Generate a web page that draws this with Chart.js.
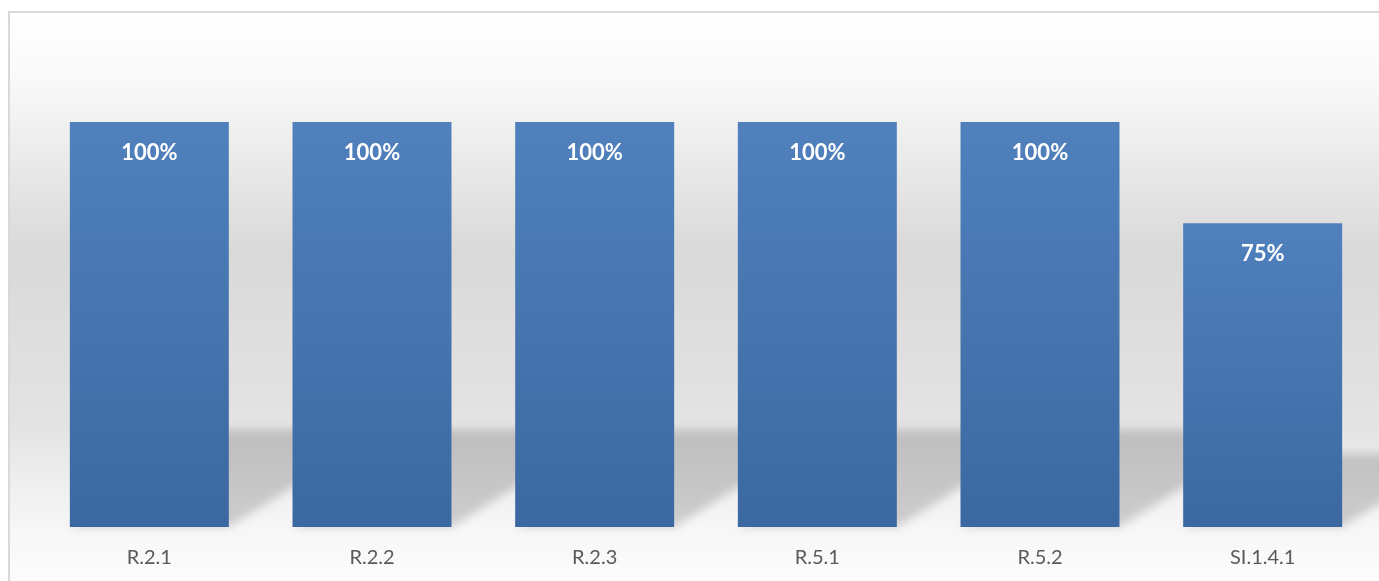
<!DOCTYPE html>
<html>
<head>
<meta charset="utf-8">
<script src="https://cdn.jsdelivr.net/npm/chart.js@4.4.1/dist/chart.umd.min.js"></script>
<style>
  html, body { margin: 0; padding: 0; background: #fff; }
  #wrap { width: 1379px; height: 581px; position: relative; }
</style>
</head>
<body>
<div id="wrap"><canvas id="chart"></canvas></div>
<script>
// Chart data
const categories = ['R.2.1', 'R.2.2', 'R.2.3', 'R.5.1', 'R.5.2', 'SI.1.4.1'];
const scores = [100, 100, 100, 100, 100, 75];
const yMin = 0;
const yMax = 120;

const FONT = 'Lato, Carlito, "Open Sans", sans-serif';

// Soft grey page background with frame line
const backgroundPlugin = {
  id: 'panelBackground',
  beforeDraw(chart) {
    const ctx = chart.ctx;
    const w = chart.width, h = chart.height;
    ctx.save();
    ctx.fillStyle = '#ffffff';
    ctx.fillRect(0, 0, w, h);
    const g = ctx.createLinearGradient(0, 12, 0, h);
    g.addColorStop(0, '#ffffff');
    g.addColorStop(0.12, '#f9f9f9');
    g.addColorStop(0.42, '#d9d9d9');
    g.addColorStop(0.72, '#e3e3e3');
    g.addColorStop(0.91, '#f7f7f7');
    g.addColorStop(1, '#fcfcfc');
    ctx.fillStyle = g;
    ctx.fillRect(9, 12, w - 9, h - 12);
    ctx.strokeStyle = '#d9d9d9';
    ctx.lineWidth = 2;
    ctx.beginPath();
    ctx.moveTo(9, h);
    ctx.lineTo(9, 12);
    ctx.lineTo(w, 12);
    ctx.stroke();
    ctx.restore();
  }
};

// Slanted perspective shadow behind each bar
const barShadowPlugin = {
  id: 'barShadow',
  beforeDatasetsDraw(chart) {
    const ctx = chart.ctx;
    const meta = chart.getDatasetMeta(0);
    ctx.save();
    ctx.filter = 'blur(5px)';
    ctx.fillStyle = 'rgba(0, 0, 0, 0.17)';
    meta.data.forEach(bar => {
      const left = bar.x - bar.width / 2;
      const right = bar.x + bar.width / 2;
      const height = bar.base - bar.y;
      const sh = height * 0.24;
      const skew = sh * 1.6;
      ctx.beginPath();
      ctx.moveTo(left, bar.base);
      ctx.lineTo(right, bar.base);
      ctx.lineTo(right + skew, bar.base - sh);
      ctx.lineTo(left + skew, bar.base - sh);
      ctx.closePath();
      ctx.fill();
    });
    ctx.restore();
  }
};

// White value labels near the top of each bar
const valueLabelPlugin = {
  id: 'valueLabels',
  afterDatasetsDraw(chart) {
    const ctx = chart.ctx;
    const meta = chart.getDatasetMeta(0);
    ctx.save();
    ctx.fillStyle = '#ffffff';
    ctx.font = 'bold 22px ' + FONT;
    ctx.textAlign = 'center';
    ctx.textBaseline = 'middle';
    meta.data.forEach((bar, i) => {
      ctx.fillText(scores[i] + '%', bar.x, bar.y + 31);
    });
    ctx.restore();
  }
};

function barGradient(context) {
  const chart = context.chart;
  const yScale = chart.scales.y;
  if (!chart.chartArea || !yScale) return '#4a78b2';
  const value = context.raw;
  const top = yScale.getPixelForValue(value);
  const bottom = yScale.getPixelForValue(0);
  const g = chart.ctx.createLinearGradient(0, top, 0, bottom);
  g.addColorStop(0, '#5081bd');
  g.addColorStop(1, '#3b68a1');
  return g;
}

const ctx = document.getElementById('chart').getContext('2d');
new Chart(ctx, {
  type: 'bar',
  data: {
    labels: categories,
    datasets: [{
      data: scores,
      backgroundColor: barGradient,
      borderWidth: 0,
      categoryPercentage: 1,
      barPercentage: 0.714
    }]
  },
  options: {
    responsive: true,
    maintainAspectRatio: false,
    animation: false,
    layout: { padding: { left: 38, right: 5, top: 41, bottom: 0 } },
    plugins: {
      legend: { display: false },
      tooltip: { enabled: false }
    },
    scales: {
      x: {
        grid: { display: false, drawTicks: false },
        border: { display: false },
        ticks: {
          color: '#595959',
          font: { family: FONT, size: 20 },
          padding: 19
        },
        afterFit(scale) {
          scale.height = 54;
        }
      },
      y: {
        display: false,
        min: yMin,
        max: yMax
      }
    }
  },
  plugins: [backgroundPlugin, barShadowPlugin, valueLabelPlugin]
});
</script>
</body>
</html>
